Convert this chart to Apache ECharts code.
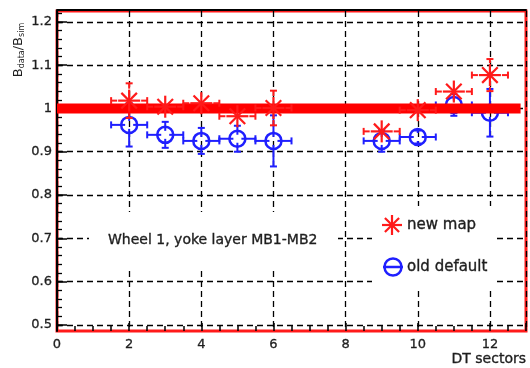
<!DOCTYPE html>
<html>
<head>
<meta charset="utf-8">
<script src="https://cdn.jsdelivr.net/npm/echarts@6/dist/echarts.min.js"></script>
<style>
  html, body { margin: 0; padding: 0; background: #fff; }
  #chart { width: 530px; height: 368px; }
</style>
</head>
<body>
<div id="chart"></div>
<script>
// DT sectors measured in wheel 1, yoke layers MB1-MB2
const sectors = [2, 3, 4, 5, 6, 9, 10, 11, 12];
const sectorHalfWidth = [0.5, 0.5, 0.5, 0.5, 0.5, 0.5, 0.5, 0.5, 0.5];

// B_data / B_sim with the new field map
const newMap = [1.018, 1.004, 1.012, 0.982, 1.001, 0.947, 0.996, 1.039, 1.077];
const newMapErr = [0.04, 0.018, 0.019, 0.02, 0.04, 0.02, 0.02, 0.019, 0.037];

// B_data / B_sim with the old default map
const oldDefault = [0.962, 0.939, 0.925, 0.93, 0.925, 0.925, 0.934, 1.008, 0.99];
const oldDefaultErr = [0.05, 0.03, 0.03, 0.03, 0.059, 0.025, 0.015, 0.025, 0.055];

// Reference ratio line
const refLine = [[0, 1], [12.85, 1]];

// Axis ticks
const yMajorTicks = [0.5, 0.6, 0.7, 0.8, 0.9, 1.0, 1.1, 1.2];
const yMinorTicks = [];
for (let i = 25; i <= 61; i++) yMinorTicks.push(+(i * 0.02).toFixed(2));

const RED = '#ff1a1a';
const BLUE = '#1f1fff';
const FONT = 'DejaVu Sans';
const INK = '#1e1e1e';
const TOP_Z = 100;

function rows(values, errs) {
  return sectors.map((s, i) => [s, values[i], sectorHalfWidth[i], errs[i]]);
}

// Error bars with end caps and a gap around the marker, then the marker itself
function makeRenderer(color, gap, marker) {
  return function (params, api) {
    const x = api.value(0), y = api.value(1), dx = api.value(2), dy = api.value(3);
    const c = api.coord([x, y]);
    const l = api.coord([x - dx, y])[0], r = api.coord([x + dx, y])[0];
    const t = api.coord([x, y + dy])[1], b = api.coord([x, y - dy])[1];
    const st = { stroke: color, lineWidth: 2, fill: null };
    const cap = 3.5;
    const kids = [];
    const seg = (x1, y1, x2, y2) => kids.push({ type: 'line', shape: { x1, y1, x2, y2 }, style: st });
    if (c[0] - l > gap) { seg(l, c[1], c[0] - gap, c[1]); seg(l, c[1] - cap, l, c[1] + cap); }
    if (r - c[0] > gap) { seg(c[0] + gap, c[1], r, c[1]); seg(r, c[1] - cap, r, c[1] + cap); }
    if (c[1] - t > gap) { seg(c[0], t, c[0], c[1] - gap); seg(c[0] - cap, t, c[0] + cap, t); }
    if (b - c[1] > gap) { seg(c[0], c[1] + gap, c[0], b); seg(c[0] - cap, b, c[0] + cap, b); }
    kids.push(marker(c[0], c[1]));
    return { type: 'group', children: kids };
  };
}

function starShape(cx, cy, rad, color, z) {
  const lines = [];
  for (let k = 0; k < 4; k++) {
    const a = k * Math.PI / 4;
    const ddx = Math.cos(a) * rad, ddy = Math.sin(a) * rad;
    const ln = { type: 'line', shape: { x1: cx - ddx, y1: cy - ddy, x2: cx + ddx, y2: cy + ddy },
      style: { stroke: color, lineWidth: 2.2 } };
    if (z != null) ln.z = z;
    lines.push(ln);
  }
  return { type: 'group', children: lines };
}

function circleShape(cx, cy, rad, color, z) {
  const el = { type: 'circle', shape: { cx, cy, r: rad }, style: { stroke: color, lineWidth: 2.5, fill: null } };
  if (z != null) el.z = z;
  return el;
}

function label(x, y, text, size, align) {
  return {
    type: 'text', x, y, z: TOP_Z + 1,
    style: {
      text, fill: INK, font: size + 'px ' + FONT, align: align || 'left', verticalAlign: 'middle',
      stroke: INK, lineWidth: 0.35
    }
  };
}

function panel(x, y, w, h) {
  return { type: 'rect', z: TOP_Z, shape: { x, y, width: w, height: h }, style: { fill: '#fff' } };
}

const chart = echarts.init(document.getElementById('chart'), null, { renderer: 'canvas' });

const dash = { color: '#000', width: 1.3, type: [6, 4] };
const tickText = { color: INK, fontFamily: FONT, fontSize: 13, textBorderColor: INK, textBorderWidth: 0.3 };

chart.setOption({
  animation: false,
  backgroundColor: '#fff',
  grid: {
    left: 57, right: 4, top: 11, bottom: 37,
    show: true, borderColor: RED, borderWidth: 3, backgroundColor: 'transparent'
  },
  xAxis: [{
    type: 'value', min: 0, max: 13, interval: 2,
    axisLine: { show: false },
    axisTick: { inside: true, length: 8, lineStyle: { color: '#000', width: 1.5 } },
    minorTick: { show: true, splitNumber: 4, length: 5, lineStyle: { color: '#000', width: 1.5 } },
    splitLine: { show: true, lineStyle: dash },
    axisLabel: Object.assign({
      margin: 7, showMaxLabel: false,
      formatter: v => (v > 12 ? '' : String(v))
    }, tickText)
  }, {
    type: 'value', position: 'top', min: 0, max: 13, offset: 1,
    axisLine: { show: true, lineStyle: { color: '#000', width: 2 } },
    axisTick: { show: false }, axisLabel: { show: false }, splitLine: { show: false }
  }],
  yAxis: [{
    type: 'value', min: 0.486, max: 1.225, offset: 1,
    axisLine: { show: true, lineStyle: { color: '#000', width: 2 } },
    axisTick: { inside: true, length: 10, customValues: yMajorTicks, lineStyle: { color: '#000', width: 1.5 } },
    splitLine: { show: true, lineStyle: dash },
    axisLabel: Object.assign({
      customValues: yMajorTicks, margin: 4,
      formatter: v => String(Math.round(v * 10) / 10)
    }, tickText)
  }, {
    type: 'value', position: 'left', min: 0.486, max: 1.225, offset: 0,
    axisLine: { show: false },
    axisTick: { inside: true, length: 5, customValues: yMinorTicks, lineStyle: { color: '#000', width: 1.3 } },
    axisLabel: { show: false }, splitLine: { show: false }
  }],
  series: [{
    name: 'old default', type: 'custom', z: 2,
    renderItem: makeRenderer(BLUE, 4, (x, y) => circleShape(x, y, 8, BLUE)),
    data: rows(oldDefault, oldDefaultErr),
    encode: { x: 0, y: 1 }
  }, {
    name: 'reference', type: 'line', z: 3, data: refLine,
    symbol: 'none', silent: true,
    lineStyle: { color: '#ff0000', width: 10, cap: 'butt' }
  }, {
    name: 'new map', type: 'custom', z: 4,
    renderItem: makeRenderer(RED, 12, (x, y) => starShape(x, y, 11, RED)),
    data: rows(newMap, newMapErr),
    encode: { x: 0, y: 1 }
  }],
  graphic: [
    {
      type: 'text', x: 19, y: 50, rotation: Math.PI / 2, z: TOP_Z,
      style: {
        text: 'B{s|data}/B{s|sim}', fill: INK, font: '13px ' + FONT,
        align: 'center', verticalAlign: 'middle',
        rich: { s: { fontSize: 8, fontFamily: FONT, padding: [6, 0, 0, 0] } }
      }
    },
    label(526, 359, 'DT sectors', 14, 'right'),
    // caption panel
    panel(89, 212, 249, 56),
    label(108, 240, 'Wheel 1, yoke layer MB1-MB2', 14),
    // legend panel
    panel(372, 206, 125, 82),
    starShape(392, 225, 10, RED, TOP_Z + 1),
    label(407, 225, 'new map', 15),
    circleShape(393, 267, 8.5, BLUE, TOP_Z + 1),
    { type: 'line', z: TOP_Z + 1, shape: { x1: 383, y1: 267, x2: 403, y2: 267 }, style: { stroke: BLUE, lineWidth: 2.5 } },
    label(407, 267, 'old default', 15)
  ]
});
</script>
</body>
</html>
